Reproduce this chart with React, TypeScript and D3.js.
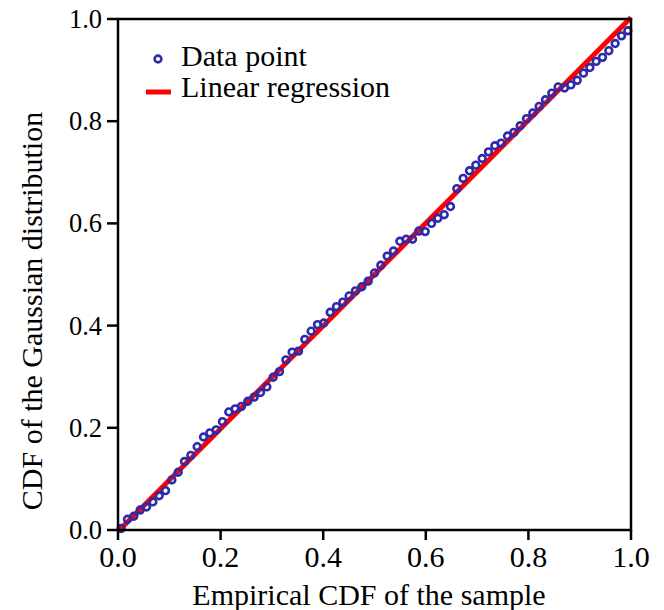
import React from "react";
import * as d3 from "d3";

const empiricalCdf: number[] = [
  0.0062, 0.0185, 0.0309, 0.0432, 0.0556, 0.0679, 0.0802, 0.0926, 0.1049, 0.1173,
  0.1296, 0.142, 0.1543, 0.1667, 0.179, 0.1914, 0.2037, 0.216, 0.2284, 0.2407,
  0.2531, 0.2654, 0.2778, 0.2901, 0.3025, 0.3148, 0.3272, 0.3395, 0.3519, 0.3642,
  0.3765, 0.3889, 0.4012, 0.4136, 0.4259, 0.4383, 0.4506, 0.463, 0.4753, 0.4877,
  0.5, 0.5123, 0.5247, 0.537, 0.5494, 0.5617, 0.5741, 0.5864, 0.5988, 0.6111,
  0.6235, 0.6358, 0.6481, 0.6605, 0.6728, 0.6852, 0.6975, 0.7099, 0.7222, 0.7346,
  0.7469, 0.7593, 0.7716, 0.784, 0.7963, 0.8086, 0.821, 0.8333, 0.8457, 0.858,
  0.8704, 0.8827, 0.8951, 0.9074, 0.9198, 0.9321, 0.9444, 0.9568, 0.9691, 0.9815,
  0.9938,
];

const gaussianCdf: number[] = [
  0.003, 0.021, 0.027, 0.039, 0.045, 0.055, 0.067, 0.077, 0.098, 0.113,
  0.134, 0.146, 0.163, 0.182, 0.19, 0.196, 0.212, 0.231, 0.237, 0.242,
  0.252, 0.26, 0.269, 0.28, 0.299, 0.31, 0.333, 0.348, 0.35, 0.373,
  0.389, 0.402, 0.405, 0.426, 0.437, 0.446, 0.458, 0.468, 0.476, 0.487,
  0.503, 0.518, 0.536, 0.546, 0.565, 0.569, 0.569, 0.585, 0.584, 0.6,
  0.61, 0.617, 0.633, 0.668, 0.688, 0.703, 0.714, 0.727, 0.74, 0.752,
  0.757, 0.771, 0.778, 0.791, 0.805, 0.816, 0.829, 0.842, 0.855, 0.867,
  0.865, 0.871, 0.88, 0.894, 0.905, 0.917, 0.925, 0.938, 0.952, 0.967,
  0.977,
];

const regressionX: number[] = [0, 1];
const regressionY: number[] = [-0.003, 1.003];

const xTicks: number[] = [0, 0.2, 0.4, 0.6, 0.8, 1.0];
const yTicks: number[] = [0, 0.2, 0.4, 0.6, 0.8, 1.0];

const xTitle = "Empirical CDF of the sample";
const yTitle = "CDF of the Gaussian distribution";
const legendLabels = ["Data point", "Linear regression"];

const W = 664;
const H = 610;
const left = 118;
const right = 631;
const top = 19;
const bottom = 530;

const FONT = "'Liberation Serif', 'Times New Roman', serif";
const BLUE = "#2b2bab";
const RED = "#ff0000";

export default function App() {
  const x = d3.scaleLinear().domain([0, 1]).range([left, right]);
  const y = d3.scaleLinear().domain([0, 1]).range([bottom, top]);
  const line = d3
    .line<number>()
    .x((d) => x(regressionX[d]))
    .y((d) => y(regressionY[d]));

  return (
    <svg
      width={W}
      height={H}
      style={{ position: "absolute", left: 0, top: 0, background: "#fff" }}
      fontFamily={FONT}
    >
      <rect x={0} y={0} width={W} height={H} fill="#fff" />
      <path d={line(regressionX.map((_, i) => i)) || ""} stroke={RED} strokeWidth={5} fill="none" />
      {empiricalCdf.map((v, i) => (
        <circle
          key={i}
          cx={x(v)}
          cy={y(gaussianCdf[i])}
          r={3.4}
          fill="none"
          stroke={BLUE}
          strokeWidth={2.6}
        />
      ))}
      {/* frame */}
      <rect x={left} y={top} width={right - left} height={bottom - top} fill="none" stroke="#000" strokeWidth={2.5} />
      {/* y ticks */}
      {yTicks.map((t) => (
        <g key={"y" + t}>
          <line x1={left - 11} x2={left} y1={y(t)} y2={y(t)} stroke="#000" strokeWidth={2.5} />
          <text x={left - 16} y={y(t) + 9} textAnchor="end" fontSize={26.5} fill="#000">
            {t.toFixed(1)}
          </text>
        </g>
      ))}
      {/* x ticks */}
      {xTicks.map((t) => (
        <g key={"x" + t}>
          <line x1={x(t)} x2={x(t)} y1={bottom} y2={bottom + 10} stroke="#000" strokeWidth={2.5} />
          <text x={x(t)} y={567} textAnchor="middle" fontSize={30} fill="#000">
            {t.toFixed(1)}
          </text>
        </g>
      ))}
      <text x={369} y={605} textAnchor="middle" fontSize={30} fill="#000">
        {xTitle}
      </text>
      <text
        transform={`translate(42, 311) rotate(-90)`}
        textAnchor="middle"
        fontSize={30}
        fill="#000"
      >
        {yTitle}
      </text>
      {/* legend */}
      <circle cx={158} cy={59} r={3.4} fill="none" stroke={BLUE} strokeWidth={2.6} />
      <text x={181} y={66} fontSize={30} fill="#000">{legendLabels[0]}</text>
      <line x1={146} x2={171} y1={92} y2={92} stroke={RED} strokeWidth={5} />
      <text x={181} y={97} fontSize={30} fill="#000">{legendLabels[1]}</text>
    </svg>
  );
}
